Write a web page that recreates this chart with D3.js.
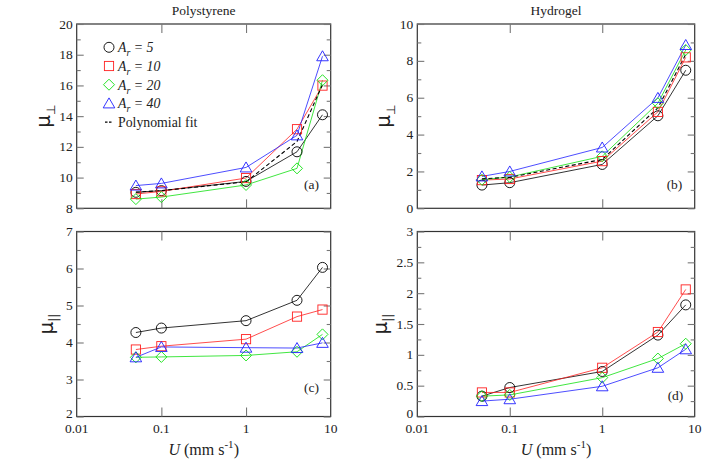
<!DOCTYPE html>
<html><head><meta charset="utf-8">
<script src="https://cdn.jsdelivr.net/npm/d3@7"></script>
<style>body{margin:0;background:#fff}svg{display:block}</style>
</head><body>
<svg id="c" width="708" height="462" font-family="Liberation Serif, Times New Roman, Times, serif"></svg>
<script>
const U = [0.05, 0.1, 1, 4, 8];
const seriesRatios = ["5", "10", "20", "40"];
const xTicks = [0.01, 0.1, 1, 10];
const xTickLabels = ["0.01", "0.1", "1", "10"];

const polyPerp5 = [9.04, 9.15, 9.75, 11.68, 14.09];
const polyPerp10 = [8.93, 9.1, 9.97, 13.15, 15.99];
const polyPerp20 = [8.6, 8.73, 9.52, 10.6, 16.34];
const polyPerp40 = [9.48, 9.62, 10.66, 12.75, 17.9];
const polyPerpFit = [9.05, 9.15, 9.72, 12.35, 16.05];

const hydroPerp5 = [1.26, 1.39, 2.38, 5.02, 7.49];
const hydroPerp10 = [1.53, 1.59, 2.56, 5.23, 8.19];
const hydroPerp20 = [1.55, 1.7, 2.82, 5.7, 8.59];
const hydroPerp40 = [1.73, 2.0, 3.3, 5.99, 8.86];
const hydroPerpFit = [1.6, 1.68, 2.65, 5.45, 8.35];

const polyPar5 = [4.27, 4.39, 4.59, 5.14, 6.03];
const polyPar10 = [3.81, 3.9, 4.09, 4.7, 4.89];
const polyPar20 = [3.6, 3.61, 3.65, 3.75, 4.22];
const polyPar40 = [3.6, 3.88, 3.86, 3.85, 3.99];

const hydroPar5 = [0.33, 0.47, 0.73, 1.32, 1.81];
const hydroPar10 = [0.39, 0.39, 0.79, 1.37, 2.06];
const hydroPar20 = [0.33, 0.35, 0.63, 0.94, 1.18];
const hydroPar40 = [0.25, 0.28, 0.49, 0.79, 1.09];

const colors = ["#000000", "#ff2020", "#10e010", "#2020ff"];
const shapes = ["circle", "square", "diamond", "triangle"];

const panels = [
  {x0:76.7, x1:330.7, y0:24, y1:208.3, dom:[8,20], major:[8,10,12,14,16,18,20], minor:d3.range(9,20,2),
   data:[polyPerp5,polyPerp10,polyPerp20,polyPerp40], fit:polyPerpFit, lab:"(a)", lx:311.5, ly:189, title:"Polystyrene", ylab:"perp", yx:50, xlabel:false},
  {x0:417.3, x1:694.7, y0:24, y1:208.3, dom:[0,10], major:[0,2,4,6,8,10], minor:d3.range(1,10,2),
   data:[hydroPerp5,hydroPerp10,hydroPerp20,hydroPerp40], fit:hydroPerpFit, lab:"(b)", lx:674.5, ly:189, title:"Hydrogel", ylab:"perp", yx:390, xlabel:false},
  {x0:76.7, x1:330.7, y0:231.5, y1:416.5, dom:[2,7], major:[2,3,4,5,6,7], minor:d3.range(2.5,7,1),
   data:[polyPar5,polyPar10,polyPar20,polyPar40], fit:null, lab:"(c)", lx:311.5, ly:392, ylab:"par", yx:53, xlabel:true},
  {x0:417.3, x1:694.7, y0:231.5, y1:416.5, dom:[0,3], major:[0,0.5,1,1.5,2,2.5,3], minor:d3.range(0.25,3,0.5),
   data:[hydroPar5,hydroPar10,hydroPar20,hydroPar40], fit:null, lab:"(d)", lx:675.5, ly:399.5, ylab:"par", yx:387, xlabel:true}
];

const svg = d3.select("#c");
const SERIF = "Liberation Serif, Times New Roman, serif";

function marker(g, shape, cx, cy, color){
  const sw = 0.9;
  if(shape==="circle") g.append("circle").attr("cx",cx).attr("cy",cy).attr("r",5).attr("fill","none").attr("stroke",color).attr("stroke-width",sw);
  else if(shape==="square") g.append("rect").attr("x",cx-4.6).attr("y",cy-4.6).attr("width",9.2).attr("height",9.2).attr("fill","none").attr("stroke",color).attr("stroke-width",sw);
  else if(shape==="diamond") g.append("path").attr("d",`M${cx},${cy-5.5}L${cx+5.5},${cy}L${cx},${cy+5.5}L${cx-5.5},${cy}Z`).attr("fill","none").attr("stroke",color).attr("stroke-width",sw);
  else g.append("path").attr("d",`M${cx},${cy-5.5}L${cx+5.8},${cy+4.5}L${cx-5.8},${cy+4.5}Z`).attr("fill","none").attr("stroke",color).attr("stroke-width",sw);
}

panels.forEach(p=>{
  const x = d3.scaleLog().domain([0.01,10]).range([p.x0,p.x1]);
  const y = d3.scaleLinear().domain(p.dom).range([p.y1,p.y0]);
  const g = svg.append("g");
  g.append("rect").attr("x",p.x0).attr("y",p.y0).attr("width",p.x1-p.x0).attr("height",p.y1-p.y0).attr("fill","none").attr("stroke","#333").attr("stroke-width",1.2);
  const tickCol = "#777";
  const ax = [
    [d3.axisLeft(y).tickValues(p.major).tickSize(-7).tickFormat(""),p.x0],
    [d3.axisRight(y).tickValues(p.major).tickSize(-7).tickFormat(""),p.x1],
    [d3.axisLeft(y).tickValues(p.minor).tickSize(-4).tickFormat(""),p.x0],
    [d3.axisRight(y).tickValues(p.minor).tickSize(-4).tickFormat(""),p.x1]
  ];
  ax.forEach(([a,tx])=>{
    const ag = g.append("g").attr("transform",`translate(${tx},0)`).call(a);
    ag.select(".domain").remove();
    ag.selectAll("line").attr("stroke",tickCol).attr("stroke-width",1.1);
  });
  [[d3.axisBottom(x).tickValues([0.1,1]).tickSize(-9).tickFormat(""),p.y1],[d3.axisTop(x).tickValues([0.1,1]).tickSize(-9).tickFormat(""),p.y0]].forEach(([a,ty])=>{
    const ag = g.append("g").attr("transform",`translate(0,${ty})`).call(a);
    ag.select(".domain").remove();
    ag.selectAll("line").attr("stroke",tickCol).attr("stroke-width",1.1);
  });
  g.selectAll(null).data(p.major).enter().append("text")
    .attr("x",p.x0-4).attr("y",(d,i)=>y(d)+4.5-(p.xlabel && i===0 ? 3.5 : 0)).attr("text-anchor","end").attr("font-size",13.5)
    .attr("font-family",SERIF).attr("fill","#222").text(d=>d);
  if(p.xlabel){
    g.selectAll(null).data(xTicks).enter().append("text")
      .attr("x",d=>x(d)).attr("y",p.y1+16.5).attr("text-anchor","middle").attr("font-size",13.5)
      .attr("font-family",SERIF).attr("fill","#222").text((d,i)=>xTickLabels[i]);
    const t = g.append("text").attr("x",(p.x0+p.x1)/2).attr("y",p.y1+38.5).attr("text-anchor","middle").attr("font-size",16)
      .attr("font-family",SERIF).attr("fill","#222");
    t.append("tspan").attr("font-style","italic").text("U");
    t.append("tspan").text(" (mm s");
    t.append("tspan").attr("font-size",11).attr("dy",-7).text("-1");
    t.append("tspan").attr("dy",7).text(")");
  }
  if(p.title){
    g.append("text").attr("x",(p.x0+p.x1)/2).attr("y",15).attr("text-anchor","middle").attr("font-size",13.5)
      .attr("font-family",SERIF).attr("fill","#222").text(p.title);
  }
  const yc = (p.y0+p.y1)/2;
  const yl = g.append("text").attr("transform",`translate(${p.yx},${yc}) rotate(-90)`).attr("text-anchor","middle")
    .attr("font-size",20).attr("font-family","DejaVu Sans, sans-serif").attr("fill","#222");
  yl.append("tspan").text("μ");
  yl.append("tspan").attr("font-size",12).attr("dy",5).text(p.ylab==="perp"?"⊥":"||");
  g.append("text").attr("x",p.lx).attr("y",p.ly).attr("text-anchor","middle").attr("font-size",13.5)
    .attr("font-family",SERIF).attr("fill","#222").text(p.lab);
  const line = d3.line().x((d,i)=>x(U[i])).y(d=>y(d));
  p.data.forEach((s,k)=>{
    g.append("path").attr("d",line(s)).attr("fill","none").attr("stroke",colors[k]).attr("stroke-width",0.8);
  });
  if(p.fit){
    g.append("path").attr("d",line(p.fit)).attr("fill","none").attr("stroke","#000").attr("stroke-width",1.1).attr("stroke-dasharray","4,2.5");
  }
  p.data.forEach((s,k)=>{
    s.forEach((v,i)=>marker(g,shapes[k],x(U[i]),y(v),colors[k]));
  });
});

const lg = svg.append("g");
const ly0 = 47.3, ldy = 18.7;
seriesRatios.forEach((r,k)=>{
  marker(lg, shapes[k], 109, ly0+k*ldy, colors[k]);
  const t = lg.append("text").attr("x",118).attr("y",ly0+k*ldy+5).attr("font-size",13.8).attr("font-style","italic")
    .attr("font-family",SERIF).attr("fill","#222");
  t.append("tspan").text("A");
  t.append("tspan").attr("font-size",10).attr("dy",4).text("r");
  t.append("tspan").attr("dy",-4).text(" = "+r);
});
lg.append("line").attr("x1",105).attr("x2",112).attr("y1",ly0+4*ldy).attr("y2",ly0+4*ldy).attr("stroke","#000").attr("stroke-width",1.1).attr("stroke-dasharray","2.5,1.5");
lg.append("text").attr("x",118).attr("y",ly0+4*ldy+5).attr("font-size",13.8).attr("font-family",SERIF).attr("fill","#222").text("Polynomial fit");
</script>
</body></html>
